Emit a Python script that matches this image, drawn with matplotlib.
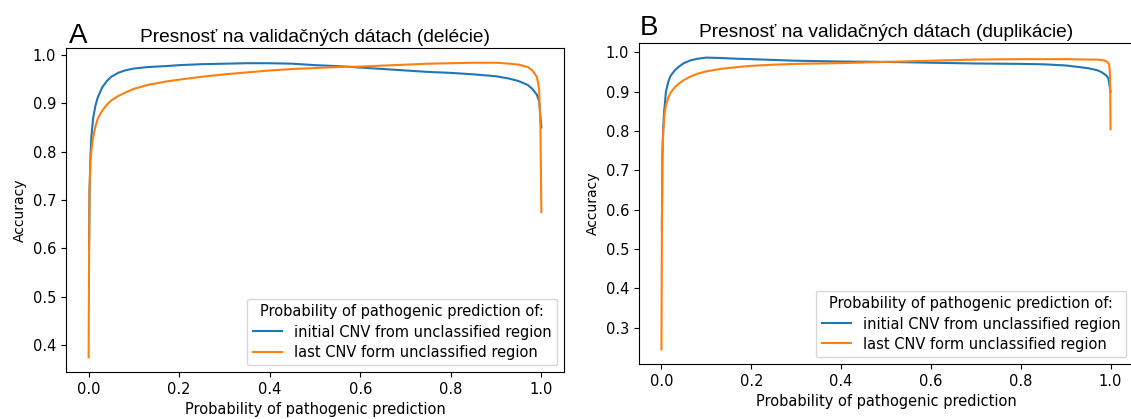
import matplotlib
matplotlib.use("Agg")
import matplotlib.pyplot as plt
import numpy as np

# probability threshold (x) and accuracy (y)
del_init_x = [0.001, 0.002, 0.004, 0.006, 0.01, 0.015, 0.02, 0.03, 0.04, 0.05, 0.065, 0.08, 0.1, 0.13, 0.17, 0.2, 0.25,
              0.3, 0.35, 0.4, 0.45, 0.5, 0.55, 0.6, 0.65, 0.7, 0.75, 0.8, 0.85, 0.9, 0.93, 0.95, 0.97, 0.98, 0.99,
              0.995, 1.0]
del_init_y = [0.6, 0.72, 0.79, 0.83, 0.87, 0.895, 0.912, 0.933, 0.946, 0.955, 0.963, 0.968, 0.972, 0.975, 0.977, 0.979,
              0.981, 0.982, 0.983, 0.983, 0.982, 0.979, 0.977, 0.974, 0.971, 0.968, 0.965, 0.963, 0.96, 0.956, 0.951,
              0.946, 0.938, 0.93, 0.918, 0.905, 0.85]
del_last_x = [0.0, 0.001, 0.002, 0.004, 0.007, 0.01, 0.015, 0.02, 0.03, 0.04, 0.05, 0.065, 0.08, 0.1, 0.13, 0.17, 0.2,
              0.25, 0.3, 0.35, 0.4, 0.45, 0.5, 0.55, 0.6, 0.65, 0.7, 0.75, 0.8, 0.85, 0.9, 0.93, 0.95, 0.97, 0.98,
              0.99, 0.995, 0.998, 1.0]
del_last_y = [0.375, 0.6, 0.72, 0.78, 0.81, 0.83, 0.852, 0.868, 0.885, 0.897, 0.906, 0.915, 0.922, 0.93, 0.938, 0.945,
              0.949, 0.955, 0.96, 0.964, 0.968, 0.971, 0.973, 0.975, 0.976, 0.978, 0.98, 0.982, 0.983, 0.984, 0.984,
              0.982, 0.98, 0.975, 0.968, 0.955, 0.93, 0.85, 0.675]

dup_init_x = [0.001, 0.002, 0.004, 0.006, 0.01, 0.015, 0.02, 0.03, 0.04, 0.05, 0.065, 0.08, 0.1, 0.13, 0.17, 0.2, 0.25,
              0.3, 0.4, 0.5, 0.6, 0.7, 0.8, 0.85, 0.9, 0.93, 0.95, 0.97, 0.98, 0.99, 0.995, 1.0]
dup_init_y = [0.55, 0.74, 0.81, 0.85, 0.9, 0.925, 0.94, 0.955, 0.965, 0.973, 0.98, 0.984, 0.987, 0.986, 0.984, 0.983,
              0.981, 0.979, 0.977, 0.976, 0.974, 0.972, 0.971, 0.97, 0.967, 0.963, 0.96, 0.955, 0.95, 0.942, 0.935, 0.9]
dup_last_x = [0.0, 0.001, 0.002, 0.004, 0.007, 0.01, 0.015, 0.02, 0.03, 0.04, 0.05, 0.065, 0.08, 0.1, 0.13, 0.17, 0.2,
              0.25, 0.3, 0.4, 0.5, 0.6, 0.7, 0.8, 0.9, 0.95, 0.97, 0.985, 0.993, 0.997, 0.999, 1.0]
dup_last_y = [0.245, 0.55, 0.72, 0.8, 0.845, 0.865, 0.885, 0.897, 0.912, 0.922, 0.93, 0.939, 0.946, 0.952, 0.958, 0.963,
              0.966, 0.969, 0.971, 0.973, 0.976, 0.979, 0.982, 0.983, 0.983, 0.982, 0.982, 0.98, 0.976, 0.97, 0.94, 0.805]

legend_title = "Probability of pathogenic prediction of:"
labels = ["initial CNV from unclassified region", "last CNV form unclassified region"]
titles = ["Presnosť na validačných dátach (delécie)", "Presnosť na validačných dátach (duplikácie)"]
letters = ["A", "B"]

W, H = 1131, 419
fig = plt.figure(figsize=(W / 100, H / 100), dpi=100)
fig.patch.set_facecolor("white")

# axes boxes in pixels: left, top, right, bottom
boxes = [(66, 48, 564, 372), (639, 43, 1133, 364)]
letter_pos = [(69, 43), (640, 35)]

data = [((del_init_x, del_init_y), (del_last_x, del_last_y)),
        ((dup_init_x, dup_init_y), (dup_last_x, dup_last_y))]

for i in range(2):
    l, t, r, b = boxes[i]
    ax = fig.add_axes([l / W, (H - b) / H, (r - l) / W, (b - t) / H])
    (x1, y1), (x2, y2) = data[i]
    ax.plot(x1, y1, color="#1f77b4", lw=1.5, label=labels[0])
    ax.plot(x2, y2, color="#ff7f0e", lw=1.5, label=labels[1])
    ax.set_xlim(-0.05, 1.05)
    ax.set_xlabel("Probability of pathogenic prediction", fontsize=10.5)
    ax.set_ylabel("Accuracy", fontsize=10)
    ax.tick_params(labelsize=10.5)
    ax.set_title(titles[i], fontfamily="Liberation Sans", fontsize=13.8, pad=4)
    ax.set_xticks([0.0, 0.2, 0.4, 0.6, 0.8, 1.0])
    ax.legend(title=legend_title, loc="lower right", fontsize=10.5, title_fontsize=10.5,
              labelspacing=0.35, borderaxespad=0.45)
    lx, ly = letter_pos[i]
    fig.text(lx / W, (H - ly) / H, letters[i], fontfamily="Liberation Sans", fontsize=20,
             ha="left", va="baseline")

fig.savefig("out.png", dpi=100)
